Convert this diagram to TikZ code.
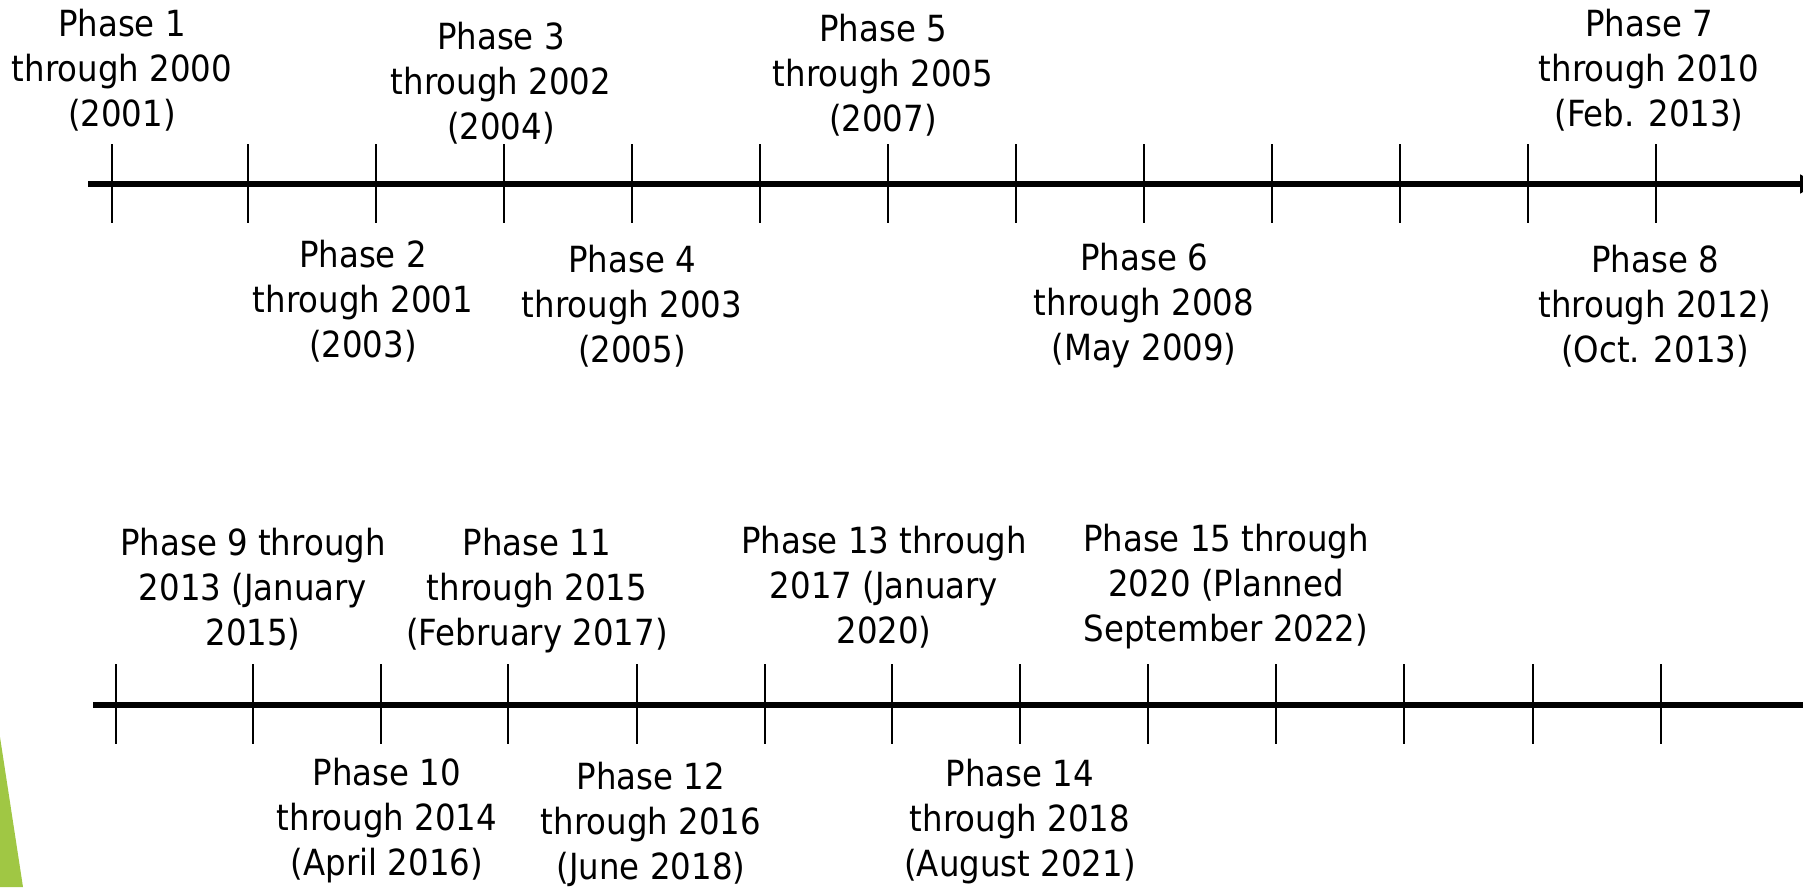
\documentclass[tikz,border=0pt]{standalone}
\usepackage{fontspec}
\setmainfont{DejaVu Sans}[FakeStretch=0.9]
\usetikzlibrary{arrows.meta}
\definecolor{facetgreen}{RGB}{160,199,68}
\begin{document}
\begin{tikzpicture}[x=1pt,y=-1pt,
  lbl/.style={align=center,font=\fontsize{36}{45}\selectfont,inner sep=0pt},
  axisline/.style={line width=5.5pt},
  tickline/.style={line width=2.2pt}]
\useasboundingbox (0,0) rectangle (1803,887);
\fill[facetgreen] (0,737) -- (23,887) -- (0,887) -- cycle;

% top axis
\coordinate (tS) at (88,184);
\coordinate (tE) at (1818,184);
\draw[axisline,-{Triangle[length=18pt,width=18pt]}] (tS) -- (tE);
\foreach \i/\x in {1/112,2/248,3/376,4/504,5/632,6/760,7/888,8/1016,9/1144,10/1272,11/1400,12/1528,13/1656}{
  \coordinate (ta\i) at (\x,144);
  \coordinate (tb\i) at (\x,223);
  \draw[tickline] (ta\i) -- (tb\i);
}

% bottom axis
\coordinate (bS) at (93,705);
\coordinate (bE) at (1803,705);
\draw[axisline] (bS) -- (bE);
\foreach \i/\x in {1/116,2/253,3/381,4/508,5/637,6/765,7/892,8/1020,9/1148,10/1276,11/1404,12/1533,13/1661}{
  \coordinate (ba\i) at (\x,664);
  \coordinate (bb\i) at (\x,744);
  \draw[tickline] (ba\i) -- (bb\i);
}

% top labels
\node[lbl] (p1) at (122,70) {Phase 1\\through 2000\\(2001)};
\node[lbl] (p3) at (501,83) {Phase 3\\through 2002\\(2004)};
\node[lbl] (p5) at (883,75) {Phase 5\\through 2005\\(2007)};
\node[lbl] (p7) at (1649,70) {Phase 7\\through 2010\\(Feb. 2013)};
\node[lbl] (p2) at (363,301) {Phase 2\\through 2001\\(2003)};
\node[lbl] (p4) at (632,306) {Phase 4\\through 2003\\(2005)};
\node[lbl] (p6) at (1144,306) {Phase 6\\through 2008\\(May 2009)};
\node[lbl] (p8) at (1655,306) {Phase 8\\through 2012)\\(Oct. 2013)};

% bottom labels
\node[lbl] (p9) at (253,589) {Phase 9 through\\2013 (January\\2015)};
\node[lbl] (p11) at (537,591) {Phase 11\\through 2015\\(February 2017)};
\node[lbl] (p13) at (884,587) {Phase 13 through\\2017 (January\\2020)};
\node[lbl] (p15) at (1226,587) {Phase 15 through\\2020 (Planned\\September 2022)};
\node[lbl] (p10) at (387,821) {Phase 10\\through 2014\\(April 2016)};
\node[lbl] (p12) at (651,824) {Phase 12\\through 2016\\(June 2018)};
\node[lbl] (p14) at (1020,822) {Phase 14\\through 2018\\(August 2021)};
\end{tikzpicture}
\end{document}
